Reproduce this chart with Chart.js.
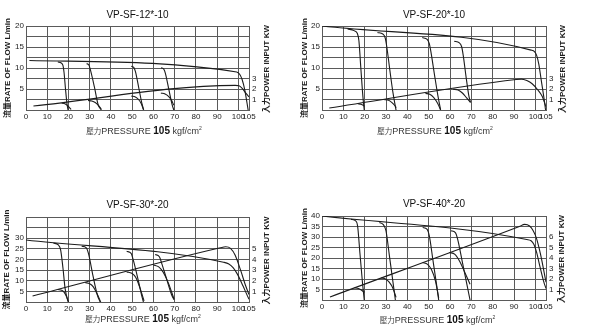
<!DOCTYPE html>
<html>
<head>
<meta charset="utf-8">
<script src="https://cdn.jsdelivr.net/npm/chart.js@4.4.1/dist/chart.umd.min.js"></script>
<style>
  html, body { margin: 0; padding: 0; background: #fff; }
  body { width: 605px; height: 334px; position: relative; overflow: hidden; }
  canvas { position: absolute; }
</style>
</head>
<body>
<canvas id="c12" width="300" height="167" style="left:0;top:0"></canvas>
<canvas id="c20" width="305" height="167" style="left:300px;top:0"></canvas>
<canvas id="c30" width="300" height="167" style="left:0;top:167px"></canvas>
<canvas id="c40" width="305" height="167" style="left:300px;top:167px"></canvas>
<script>
// pressure axis (kgf/cm2), same on all four charts
const pressureTicks = [0, 10, 20, 30, 40, 50, 60, 70, 80, 90, 100, 105];
const powerTicks = [0, 1, 2, 3, 4, 5, 6, 7, 8];

// VP-SF-12*-10 : flow in L/min, power in kW, points are [pressure, value]
const flow12Main = [[1.6, 11.8], [99.2, 9.05], [100.6, 8.5], [101.8, 7.2], [103, 4.8], [104.6, 0]];
const flow12Cut = [
    [[15, 11.42], [16.6, 11.2], [17.4, 10.6], [17.9, 9], [18.6, 5], [19.3, 1.5], [19.8, 0]],
    [[28.5, 11.04], [29.6, 10.7], [30.3, 9.6], [32.2, 5.5], [34, 1.2], [35.5, 0]],
    [[49.6, 10.44], [50.8, 10.1], [51.5, 9.2], [53.2, 5], [54.6, 1.5], [55.4, 0]],
    [[63.6, 10.05], [64.9, 9.7], [65.6, 8.8], [67.3, 4.8], [68.8, 1.3], [69.6, 0]]
];
const power12Main = [[3.5, 0.38], [98.5, 2.35], [100.3, 2.3], [101.8, 2.05], [103.5, 1.6], [105, 1.25]];
const power12Cut = [
    [[16.8, 0.65], [18.3, 0.6], [19.6, 0.42], [20.6, 0.2], [21.2, 0.05]],
    [[29.2, 0.91], [31, 0.86], [32.6, 0.72], [34.2, 0.42], [35.4, 0.08]],
    [[49.6, 1.34], [51.5, 1.24], [53, 1.0], [54.3, 0.6], [55.3, 0.05]],
    [[63.5, 1.62], [65.5, 1.52], [67.2, 1.28], [68.6, 0.9], [69.6, 0.45]]
];

// VP-SF-20*-10
const flow20Main = [[0, 20], [98, 14.25], [99.6, 13.9], [100.6, 13], [101.6, 11], [102.8, 7], [104, 3], [104.8, 0]];
const flow20Cut = [
    [[12, 19.3], [15, 18.9], [16.6, 18.2], [17.3, 16.5], [18.2, 10], [19.2, 3], [19.8, 0]],
    [[26, 18.47], [28.5, 18.1], [29.6, 17.2], [30.3, 15.3], [31.8, 9.5], [33.3, 4], [34.7, 0]],
    [[47, 17.24], [49.3, 16.8], [50.3, 15.8], [51, 14], [52.7, 8.5], [54.3, 3.5], [55.6, 0]],
    [[62, 16.36], [64.4, 16.0], [65.5, 15.0], [66.2, 13], [67.5, 8], [68.8, 3.5], [69.6, 1.8]]
];
const power20Main = [[3.4, 0.19], [91, 2.9], [93.5, 2.94], [96, 2.8], [98.5, 2.5], [101, 1.95], [103.2, 1.3], [105, 0.3]];
const power20Cut = [
    [[16.8, 0.6], [18.3, 0.55], [19.3, 0.45], [19.9, 0.35]],
    [[29.3, 0.99], [31.2, 0.92], [32.8, 0.7], [34, 0.45], [34.8, 0.22]],
    [[48.5, 1.58], [50.5, 1.5], [52.3, 1.2], [54.3, 0.6], [55.6, 0]],
    [[61.5, 1.99], [63.8, 1.9], [65.8, 1.62], [67.8, 1.15], [69.6, 0.72]]
];

// VP-SF-30*-20
const flow30Main = [[0, 29.2], [93, 18.7], [95.5, 17.9], [97.5, 16.2], [99.6, 13], [102.2, 7.5], [104.2, 3], [105, 1.3]];
const flow30Cut = [
    [[12.9, 27.74], [15.2, 26.9], [16.3, 24.5], [17.4, 16], [18.4, 6.4], [19.6, 0.9], [20, 0]],
    [[26.2, 26.24], [28.3, 25.6], [29.4, 22.9], [31.5, 12.5], [33.6, 3.3], [34.9, 0]],
    [[47.4, 23.85], [49.5, 22.9], [50.5, 19.8], [52.9, 10], [54.6, 2.5], [55.3, 0]],
    [[60.8, 22.34], [62.8, 21.3], [63.9, 18.2], [66.3, 10.5], [68.6, 3.3], [69.7, 1.0]]
];
const power30Main = [[3.1, 0.56], [91.5, 5.1], [94, 5.2], [96.3, 5.05], [98.5, 4.4], [101.2, 2.9], [103.3, 1.6], [105, 0.7]];
const power30Cut = [
    [[15, 1.17], [16.8, 1.1], [18, 0.9], [19.2, 0.45], [20, 0]],
    [[27.8, 1.83], [30, 1.72], [31.6, 1.45], [33.4, 0.8], [35.2, 0]],
    [[47.4, 2.83], [49.8, 2.7], [51.7, 2.3], [53.7, 1.3], [55.6, 0.1]],
    [[60, 3.48], [62.5, 3.3], [64.6, 2.8], [67, 1.8], [69.7, 0.28]]
];

// VP-SF-40*-20
const flow40Main = [[0, 40], [96, 28.8], [98, 28.2], [99.3, 26.5], [100.5, 23], [102.2, 15.8], [104, 8.5], [105, 5.5]];
const flow40Cut = [
    [[13.6, 38.41], [15.9, 37.6], [16.7, 35.2], [17.8, 22], [19, 8], [19.8, 0]],
    [[26.9, 36.86], [28.75, 35.9], [30, 32.9], [31.6, 21], [33.2, 9], [34.4, 0]],
    [[47.2, 34.49], [49.2, 33.7], [50.3, 30.5], [52, 19], [53.6, 8], [54.7, 0]],
    [[60.5, 32.94], [62.5, 32.1], [63.6, 28.9], [65.8, 18], [67.8, 8], [69.4, 0]]
];
const power40Main = [[3.75, 0.29], [92.5, 7.0], [95, 7.2], [97.3, 7.05], [99, 6.6], [100.5, 5.9], [102.5, 4.3], [105, 1.7]];
const power40Cut = [
    [[15.2, 1.16], [17, 1.1], [18.4, 0.95], [19.4, 0.8], [20, 0.75]],
    [[27.7, 2.1], [29.8, 2.0], [31.5, 1.7], [33.3, 1.1], [34.7, 0.25]],
    [[47.2, 3.57], [49.5, 3.4], [51.3, 2.9], [53.2, 1.8], [54.7, 0.2]],
    [[59.7, 4.52], [62.3, 4.35], [64.5, 3.7], [66.8, 2.7], [69.4, 1.5]]
];

const FONT = '"Liberation Sans", Arial, "Noto Sans CJK TC", sans-serif';
const INK = '#1c1c1c';
const GRID = '#5a5a5a';

// right title and the mixed-size pressure title are drawn by hand
const axisTexts = {
    id: 'axisTexts',
    afterDraw(chart, args, o) {
        const { ctx, chartArea: a } = chart;
        ctx.save();
        ctx.fillStyle = INK;
        ctx.textBaseline = 'middle';
        ctx.translate(o.rightX, (a.top + a.bottom) / 2 + 1);
        ctx.rotate(-Math.PI / 2);
        ctx.textAlign = 'center';
        ctx.font = 'bold 8px ' + FONT;
        ctx.fillText('入力POWER INPUT KW', 0, 0);
        ctx.restore();

        ctx.save();
        ctx.textBaseline = 'alphabetic';
        ctx.textAlign = 'left';
        const parts = [
            ['壓力', '7.5px', '#444', 0],
            ['PRESSURE ', '9px', '#333', 0],
            ['105', 'bold 10px', '#111', 0],
            [' kgf/cm', '9px', '#333', 0],
            ['2', '5px', '#333', -4]
        ];
        let w = 0;
        parts.forEach(p => { ctx.font = p[1] + ' ' + FONT; w += ctx.measureText(p[0]).width; });
        let x = o.xTitle[0] - w / 2;
        const y = o.xTitle[1] + 3.5;
        parts.forEach(p => {
            ctx.font = p[1] + ' ' + FONT;
            ctx.fillStyle = p[2];
            ctx.fillText(p[0], x, y + p[3]);
            x += ctx.measureText(p[0]).width;
        });
        ctx.restore();
    }
};

function lineSet(points, axis) {
    return {
        data: points,
        yAxisID: axis,
        borderColor: INK,
        borderWidth: 1.1,
        pointRadius: 0,
        fill: false,
        cubicInterpolationMode: 'monotone'
    };
}

function makeChart(id, c) {
    const el = document.getElementById(id);
    const datasets = [];
    [c.flowMain, ...c.flowCut].forEach(p => datasets.push(lineSet(p, 'y')));
    [c.powerMain, ...c.powerCut].forEach(p => datasets.push(lineSet(p, 'y2')));
    const flowTicks = powerTicks.map(k => k * c.flowMax / 8);
    new Chart(el, {
        type: 'line',
        data: { datasets },
        options: {
            responsive: false,
            animation: false,
            events: [],
            layout: { padding: 0 },
            plugins: {
                legend: { display: false },
                tooltip: { enabled: false },
                title: {
                    display: true,
                    fullSize: false,
                    text: c.title,
                    color: '#111',
                    font: { family: FONT, size: 10, weight: 'normal' },
                    padding: { top: c.titleY - 6, bottom: c.area[2] - c.titleY - 6 }
                },
                axisTexts: { rightX: c.rightX, xTitle: c.xTitle }
            },
            scales: {
                x: {
                    type: 'linear',
                    min: 0,
                    max: 105,
                    afterBuildTicks: s => { s.ticks = pressureTicks.map(v => ({ value: v })); },
                    afterFit: s => { s.height = el.height - c.area[3]; },
                    ticks: { autoSkip: false, maxRotation: 0, padding: 2, color: INK, font: { family: FONT, size: 8 } },
                    grid: { color: GRID, lineWidth: 1, drawTicks: false },
                    border: { color: GRID }
                },
                y: {
                    min: 0,
                    max: c.flowMax,
                    afterBuildTicks: s => { s.ticks = flowTicks.map(v => ({ value: v })); },
                    ticks: {
                        autoSkip: false,
                        padding: 2,
                        color: INK,
                        font: { family: FONT, size: 8 },
                        callback: v => (v > 0 && v % 5 === 0 && v <= c.flowLabelMax) ? String(v) : ''
                    },
                    afterFit: s => { s.width = c.area[0]; },
                    grid: { color: GRID, lineWidth: 1, drawTicks: false },
                    border: { color: GRID },
                    title: {
                        display: true,
                        text: '流量RATE OF FLOW L/min',
                        color: INK,
                        font: { family: FONT, size: 8, weight: 'bold' },
                        padding: { top: c.leftX - 5, bottom: 0 }
                    }
                },
                y2: {
                    position: 'right',
                    min: 0,
                    max: 8,
                    afterBuildTicks: s => { s.ticks = powerTicks.map(v => ({ value: v })); },
                    ticks: {
                        autoSkip: false,
                        padding: 3,
                        color: INK,
                        font: { family: FONT, size: 8 },
                        callback: v => (v > 0 && v <= c.powerLabelMax) ? String(v) : ''
                    },
                    afterFit: s => { s.width = el.width - c.area[1]; },
                    grid: { display: false, drawTicks: false },
                    border: { color: GRID }
                }
            }
        },
        plugins: [axisTexts]
    });
}

// area = [left, right, top, bottom] of the plot inside each canvas
makeChart('c12', { title: 'VP-SF-12*-10', area: [26, 249, 26, 110], titleY: 15, rightX: 267, leftX: 8, xTitle: [144, 130],
    flowMax: 20, flowLabelMax: 20, powerLabelMax: 3,
    flowMain: flow12Main, flowCut: flow12Cut, powerMain: power12Main, powerCut: power12Cut });
makeChart('c20', { title: 'VP-SF-20*-10', area: [22, 246, 26, 110], titleY: 15, rightX: 263, leftX: 5, xTitle: [135, 130],
    flowMax: 20, flowLabelMax: 20, powerLabelMax: 3,
    flowMain: flow20Main, flowCut: flow20Cut, powerMain: power20Main, powerCut: power20Cut });
makeChart('c30', { title: 'VP-SF-30*-20', area: [26, 249, 50, 135], titleY: 38, rightX: 267, leftX: 7, xTitle: [143, 151],
    flowMax: 40, flowLabelMax: 30, powerLabelMax: 5,
    flowMain: flow30Main, flowCut: flow30Cut, powerMain: power30Main, powerCut: power30Cut });
makeChart('c40', { title: 'VP-SF-40*-20', area: [22, 246, 49, 133], titleY: 37, rightX: 262, leftX: 5, xTitle: [137.5, 152],
    flowMax: 40, flowLabelMax: 40, powerLabelMax: 6,
    flowMain: flow40Main, flowCut: flow40Cut, powerMain: power40Main, powerCut: power40Cut });
</script>
</body>
</html>
